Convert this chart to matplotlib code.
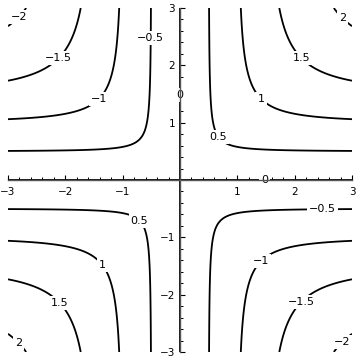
import numpy as np
import matplotlib
matplotlib.use("Agg")
import matplotlib.pyplot as plt
from matplotlib.ticker import MultipleLocator, FixedLocator

# ----------------------------------
# Data: f(x, y) = x*y / sqrt(x^2 + y^2) on [-3, 3] x [-3, 3]
# ----------------------------------
x_range = (-3, 3)
y_range = (-3, 3)
levels = [-2, -1.5, -1, -0.5, 0, 0.5, 1, 1.5, 2]
major_ticks = [-3, -2, -1, 1, 2, 3]

# where the contour labels sit (data coords)
label_x = [-2.79, -2.11, -1.40, -0.49, 0.0, 2.84, 2.11, 1.40, 0.66,
           -0.72, -1.36, -2.09, -2.81, 2.48, 1.41, 2.13, 2.83, 1.48]
label_y = [2.83, 2.11, 1.40, 2.48, 1.48, 2.83, 2.11, 1.40, 0.75,
           -0.72, -1.48, -2.13, -2.83, -0.52, -1.41, -2.13, -2.83, 0.0]

xs = np.linspace(*x_range, 200)
ys = np.linspace(*y_range, 200)
X, Y = np.meshgrid(xs, ys)
Z = X * Y / np.sqrt(X**2 + Y**2)


def fmt_num(v, pos=None):
    return f"{v:g}".replace("-", "\u2212")


# ----------------------------------
# Plot
# ----------------------------------
fig = plt.figure(figsize=(3.6, 3.62), dpi=100)
ax = fig.add_axes([8 / 360, 10 / 362, 344 / 360, 344 / 362])

cs = ax.contour(X, Y, Z, levels=levels, colors="black", linewidths=1.3,
                linestyles="solid", zorder=1.5)
labels = ax.clabel(cs, fontsize=8, inline=False, fmt=fmt_num,
                   manual=list(zip(label_x, label_y)))
for t in labels:
    t.set_rotation(0)
    t.set_bbox(dict(facecolor="white", edgecolor="none", pad=1.5))
    t.set_zorder(2)

ax.set_xlim(*x_range)
ax.set_ylim(*y_range)

# sage-style axes through the origin, drawn over the labels
for side in ("top", "right"):
    ax.spines[side].set_visible(False)
for side in ("left", "bottom"):
    ax.spines[side].set_position(("data", 0))
    ax.spines[side].set_color("#555555")
    ax.spines[side].set_linewidth(1.0)
    ax.spines[side].set_zorder(2.5)

ax.xaxis.set_major_locator(FixedLocator(major_ticks))
ax.yaxis.set_major_locator(FixedLocator(major_ticks))
ax.xaxis.set_minor_locator(MultipleLocator(0.2))
ax.yaxis.set_minor_locator(MultipleLocator(0.2))
ax.xaxis.set_major_formatter(fmt_num)
ax.yaxis.set_major_formatter(fmt_num)

ax.tick_params(axis="x", which="both", direction="in", pad=5, labelsize=7.5)
ax.tick_params(axis="y", which="both", direction="in", pad=3.5, labelsize=7.5)
ax.tick_params(which="major", length=3.5, width=0.8)
ax.tick_params(which="minor", length=2.2, width=0.7)

fig.savefig("out.png", dpi=100)
